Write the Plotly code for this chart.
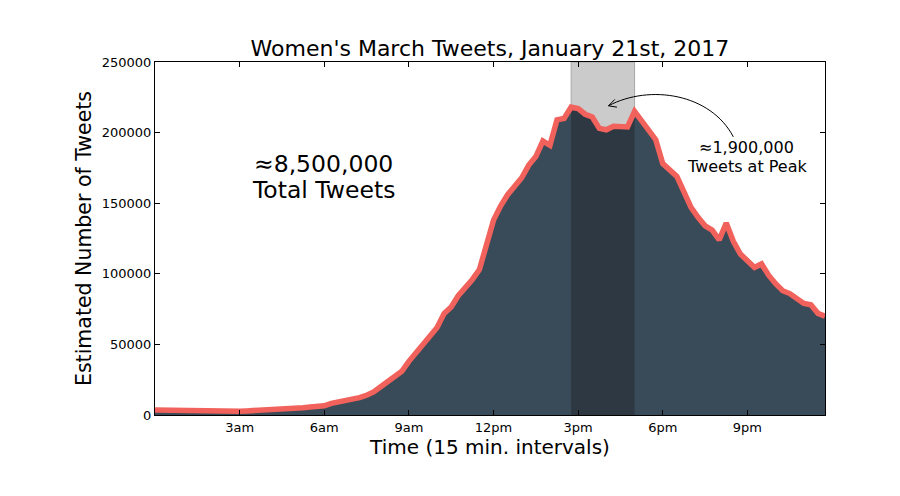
import plotly.graph_objects as go

# tweets per 15 minute interval, Jan 21st 2017 (index 0 = midnight)
tweets = [3500, 3400, 3300, 3200, 3000, 2900, 2800, 2500, 2400, 2500,
          2600, 2700, 2700, 2900, 3100, 3300, 3400, 3600, 3800, 4200,
          4700, 5200, 5700, 6000, 6500, 8200, 9000, 10000, 11000, 12300,
          14000, 16300, 20000, 23800, 27000, 31000, 38000, 44000, 49500, 56000,
          62000, 72000, 76500, 84500, 89800, 96000, 103000, 122000, 138000, 148000,
          156000, 162000, 168000, 177000, 183000, 194000, 191000, 209000, 210000, 218000,
          217000, 213000, 211000, 203000, 202000, 204500, 204500, 204000, 215000, 208000,
          202000, 195000, 178000, 174000, 169000, 158000, 147000, 140000, 134000, 131000,
          124000, 136000, 123000, 114000, 109000, 104500, 107000, 99000, 93000, 88000,
          86000, 82000, 79000, 78000, 72000, 70000]
intervals = list(range(len(tweets)))

tick_pos = [12, 24, 36, 48, 60, 72, 84]
tick_text = ['3am', '6am', '9am', '12pm', '3pm', '6pm', '9pm']

peak_start, peak_end = 59, 68

FILL = '#394a59'
BAND_FILL = '#2e3842'
RED = '#f0625b'
FONT = 'DejaVu Sans'

fig = go.Figure()

fig.add_trace(go.Scatter(x=intervals, y=tweets, mode='none', fill='tozeroy',
                         fillcolor=FILL, hoverinfo='skip'))
fig.add_trace(go.Scatter(x=intervals[peak_start:peak_end + 1],
                         y=tweets[peak_start:peak_end + 1],
                         mode='none', fill='tozeroy', fillcolor=BAND_FILL,
                         hoverinfo='skip'))
fig.add_trace(go.Scatter(x=intervals, y=tweets, mode='lines',
                         line=dict(color=RED, width=5.5)))

# highlighted peak band (the part above the curve)
fig.add_shape(type='rect', x0=peak_start, x1=peak_end, y0=0, y1=250000,
              xref='x', yref='y', layer='below',
              fillcolor='#cbcbcb', line=dict(color='#a8a8a8', width=1))

# curved arrow, drawn in data units
p0 = (82.0, 197000)
c1 = (78.8, 227500)
c2 = (70.2, 234500)
p1 = (64.3, 219000)
w1 = (65.5, 218000)
w2 = (65.2, 223500)
path = (f'M {p0[0]},{p0[1]} C {c1[0]},{c1[1]} {c2[0]},{c2[1]} {p1[0]},{p1[1]} '
        f'M {w1[0]},{w1[1]} L {p1[0]},{p1[1]} L {w2[0]},{w2[1]}')
fig.add_shape(type='path', path=path, xref='x', yref='y', layer='above',
              line=dict(color='black', width=1))

big = dict(family=FONT, size=23.5, color='black')
small = dict(family=FONT, size=16, color='black')
fig.add_annotation(x=23.9, y=178000, text='≈8,500,000', showarrow=False, font=big,
                   borderpad=0)
fig.add_annotation(x=23.9, y=159600, text='Total Tweets', showarrow=False, font=big,
                   borderpad=0)
fig.add_annotation(x=83.9, y=189400, text='≈1,900,000', showarrow=False, font=small,
                   borderpad=0)
fig.add_annotation(x=83.9, y=176000, text='Tweets at Peak', showarrow=False, font=small,
                   borderpad=0)

axis_common = dict(showline=True, linecolor='black', linewidth=1, mirror='allticks',
                   ticks='inside', ticklen=5, tickcolor='black', showgrid=False,
                   zeroline=False, tickfont=dict(family=FONT, size=13, color='black'))

fig.update_xaxes(range=[0, 95], tickvals=tick_pos, ticktext=tick_text,
                 title=dict(text='Time (15 min. intervals)', standoff=6,
                            font=dict(family=FONT, size=20, color='black')),
                 **axis_common)
fig.update_yaxes(range=[0, 250000], dtick=50000, tickformat='d',
                 title=dict(text='Estimated Number of Tweets', standoff=4,
                            font=dict(family=FONT, size=20.5, color='black')),
                 **axis_common)

fig.update_layout(
    width=900, height=496,
    margin=dict(l=155, r=75, t=62, b=81),
    paper_bgcolor='white', plot_bgcolor='white',
    showlegend=False,
    title=dict(text="Women's March Tweets, January 21st, 2017",
               x=0.5444, xanchor='center', y=0.902, yanchor='middle',
               font=dict(family=FONT, size=22, color='black')),
)

fig.write_html('out.html', config={'displayModeBar': False},
               post_script="document.body.style.margin='0';")
